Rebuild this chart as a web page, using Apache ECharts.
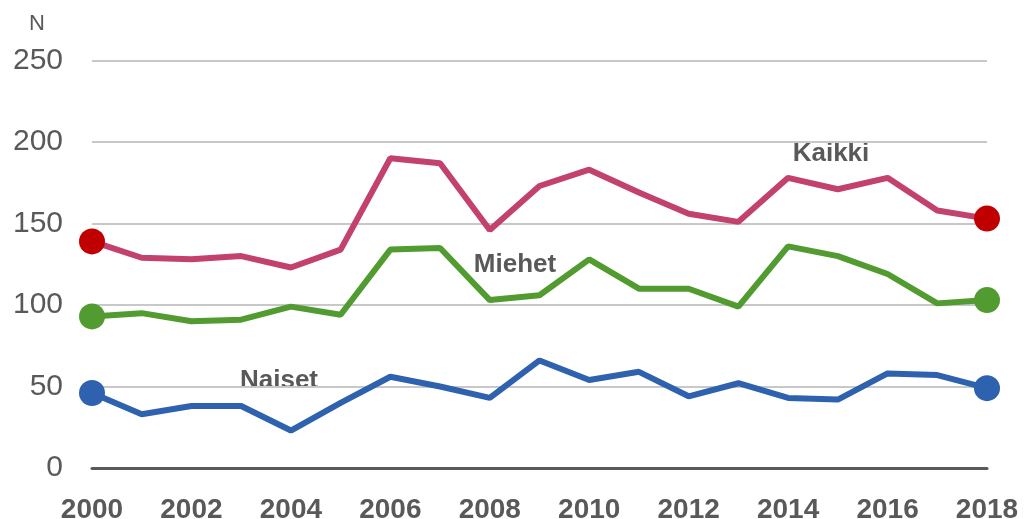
<!DOCTYPE html>
<html>
<head>
<meta charset="utf-8">
<script src="https://cdn.jsdelivr.net/npm/echarts@6/dist/echarts.min.js"></script>
<style>
html,body{margin:0;padding:0;background:#fff;}
#c{width:1026px;height:519px;}
</style>
</head>
<body>
<div id="c"></div>
<script>
var years = ['2000','2001','2002','2003','2004','2005','2006','2007','2008','2009','2010','2011','2012','2013','2014','2015','2016','2017','2018'];
var kaikki = [139,129,128,130,123,134,190,187,146,173,183,169,156,151,178,171,178,158,153];
var miehet = [93,95,90,91,99,94,134,135,103,106,128,110,110,99,136,130,119,101,103];
var naiset = [46,33,38,38,23,40,56,50,43,66,54,59,44,52,43,42,58,57,49];
var yTicks = [0,50,100,150,200,250];

var FONT = '"Liberation Sans", Arial, sans-serif';
var last = years.length - 1;
function endSize(v, p) { return (p.dataIndex === 0 || p.dataIndex === last) ? 26 : 0; }

var chart = echarts.init(document.getElementById('c'), null, {renderer:'canvas'});
chart.setOption({
  animation: false,
  backgroundColor: '#ffffff',
  grid: {left: 92, right: 39, top: 60.5, bottom: 51, containLabel: false, outerBoundsMode: 'none'},
  xAxis: {
    type: 'category',
    data: years,
    boundaryGap: false,
    axisLine: {lineStyle: {color: '#595959', width: 3}},
    axisTick: {show: false},
    axisLabel: {interval: 1, color: '#595959', fontSize: 28, fontWeight: 'bold', fontFamily: FONT, margin: 28},
    splitLine: {show: false}
  },
  yAxis: {
    type: 'value',
    min: yTicks[0], max: yTicks[yTicks.length-1], interval: 50,
    axisLine: {show: false},
    axisTick: {show: false},
    axisLabel: {color: '#595959', fontSize: 30, fontFamily: FONT, margin: 29},
    splitLine: {lineStyle: {color: '#C8C8C8', width: 2}}
  },
  graphic: [
    {type: 'text', left: 29, top: 13, style: {text: 'N', fill: '#595959', font: '22px ' + FONT}},
    {type: 'text', x: 831, y: 154, style: {text: 'Kaikki', fill: '#595959', font: 'bold 26px ' + FONT, textAlign: 'center', textVerticalAlign: 'middle'}},
    {type: 'text', x: 515, y: 265, style: {text: 'Miehet', fill: '#595959', font: 'bold 26px ' + FONT, textAlign: 'center', textVerticalAlign: 'middle'}},
    {type: 'text', x: 279, y: 381, style: {text: 'Naiset', fill: '#595959', font: 'bold 26px ' + FONT, textAlign: 'center', textVerticalAlign: 'middle'}}
  ],
  series: [
    {name: 'Naiset', type: 'line', data: naiset, symbol: 'circle', symbolSize: endSize, showAllSymbol: true,
     lineStyle: {color: '#2F62AE', width: 6}, itemStyle: {color: '#2F62AE'}, z: 3},
    {name: 'Miehet', type: 'line', data: miehet, symbol: 'circle', symbolSize: endSize, showAllSymbol: true,
     lineStyle: {color: '#529B30', width: 6}, itemStyle: {color: '#529B30'}, z: 3},
    {name: 'Kaikki', type: 'line', data: kaikki, symbol: 'circle', symbolSize: endSize, showAllSymbol: true,
     lineStyle: {color: '#C2416F', width: 6}, itemStyle: {color: '#C00000'}, z: 3}
  ]
});
</script>
</body>
</html>
